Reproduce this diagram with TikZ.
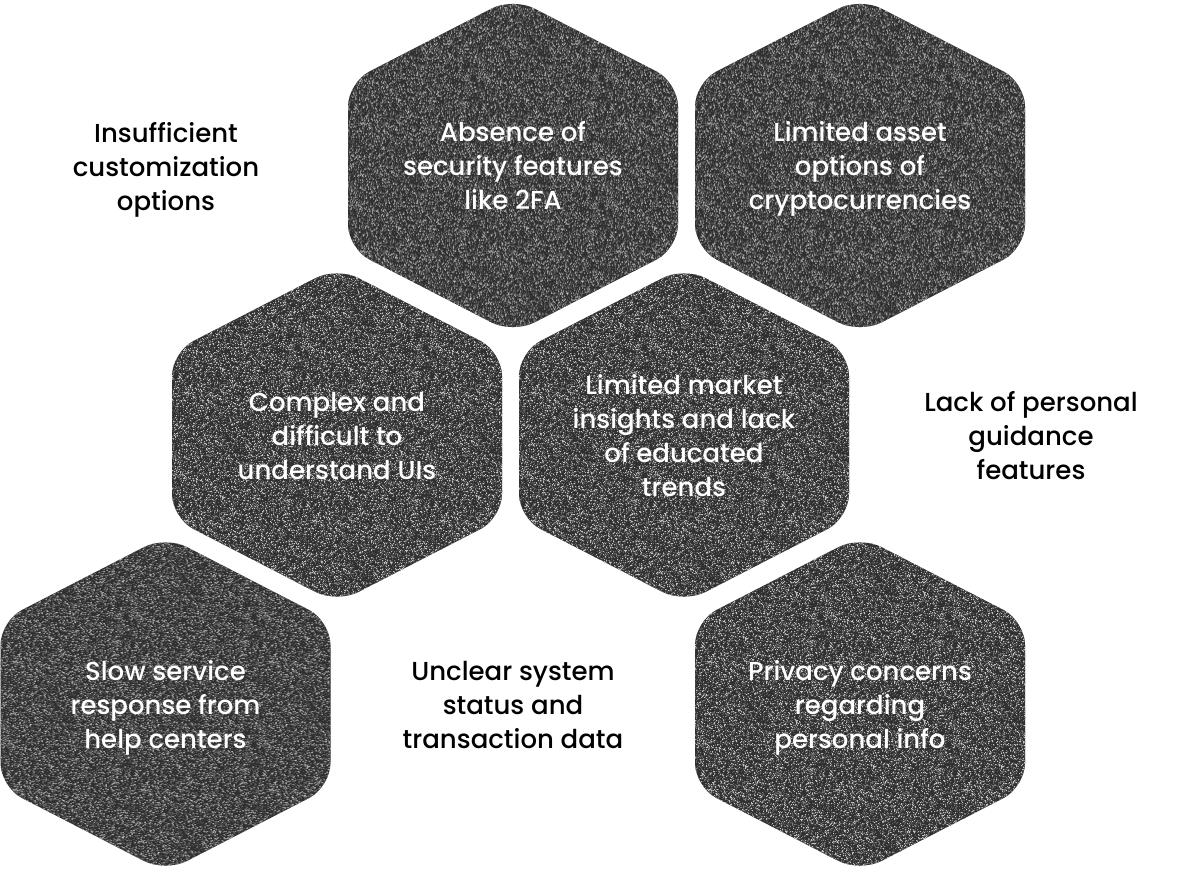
\documentclass[tikz,border=0pt]{standalone}
\usepackage{fontspec}
\setmainfont{Poppins Medium}
\definecolor{noiseA}{gray}{0.50}
\definecolor{noiseB}{gray}{0.76}
\definecolor{noiseC}{gray}{0.36}
\definecolor{noiseBase}{gray}{0.19}
\newcount\nzi
\newcommand{\nzdots}[2]{%
  \nzi=0
  \loop
    \pgfmathrandominteger{\nzx}{0}{127}%
    \pgfmathrandominteger{\nzy}{0}{127}%
    \pgfpathrectangle{\pgfqpoint{\nzx pt}{\nzy pt}}{\pgfqpoint{1pt}{1pt}}%
    \advance\nzi by 1
    \ifnum\numexpr\nzi/200*200\relax=\nzi \pgfsetfillcolor{#1}\pgfusepath{fill}\fi
  \ifnum\nzi<#2 \repeat
  \pgfsetfillcolor{#1}\pgfusepath{fill}}
\pgfmathsetseed{4242}
\newsavebox{\nztile}
\sbox{\nztile}{\begin{pgfpicture}
  \pgfpathrectangle{\pgfqpoint{0pt}{0pt}}{\pgfqpoint{128pt}{128pt}}%
  \pgfusepath{use as bounding box}%
  \nzdots{noiseC}{3600}%
  \nzdots{noiseA}{2000}%
  \nzdots{noiseB}{1300}%
\end{pgfpicture}}
\tikzset{
  hexcell/.style={fill=noiseBase, rounded corners=24pt},
  onhex/.style={text=white, align=center, font=\fontsize{26}{34}\selectfont},
  offhex/.style={text=black, align=center, font=\fontsize{26}{34}\selectfont},
}
\newcommand{\hexpath}[2]{(#1+165,#2-83) -- (#1,#2-168) -- (#1-165,#2-83) -- (#1-165,#2+83) -- (#1,#2+168) -- (#1+165,#2+83) -- cycle}
\newcommand{\hexat}[2]{%
  \path[hexcell] \hexpath{#1}{#2};
  \begin{scope}
    \clip[rounded corners=24pt] \hexpath{#1}{#2};
    \foreach \ti in {-1.5,-0.5,0.5} \foreach \tj in {-0.5,0.5,1.5} {
      \pgfpointxy{#1+\ti*128}{#2+\tj*128}
      \pgfgetlastxy{\tx}{\ty}
      \begin{pgfscope}
        \pgftransformshift{\pgfqpoint{\tx}{\ty}}
        \pgftext[at=\pgfpointorigin,left,bottom]{\usebox{\nztile}}
      \end{pgfscope}
    }
  \end{scope}}
\begin{document}
\begin{tikzpicture}[x=1pt,y=-1pt]
\useasboundingbox (0,0) rectangle (1197,870);
\hexat{513}{165.5}
\hexat{860}{165.5}
\hexat{337}{435}
\hexat{684}{435}
\hexat{165.5}{704}
\hexat{860}{704}
\node[onhex] (security) at (513,169) {\strut Absence of\\security features\\like 2FA\strut};
\node[onhex] (assets) at (860,169) {\strut Limited asset\\options of\\cryptocurrencies\strut};
\node[onhex] (uis) at (337,439) {\strut Complex and\\difficult to\\understand UIs\strut};
\node[onhex] (market) at (684,439) {\strut Limited market\\insights and lack\\of educated\\trends\strut};
\node[onhex] (service) at (165.5,708) {\strut Slow service\\response from\\help centers\strut};
\node[onhex] (privacy) at (860,708) {\strut Privacy concerns\\regarding\\personal info\strut};
\node[offhex] (custom) at (166,170) {\strut Insufficient\\customization\\options\strut};
\node[offhex] (guidance) at (1031,439) {\strut Lack of personal\\guidance\\features\strut};
\node[offhex] (status) at (513,708) {\strut Unclear system\\status and\\transaction data\strut};
\end{tikzpicture}
\end{document}
